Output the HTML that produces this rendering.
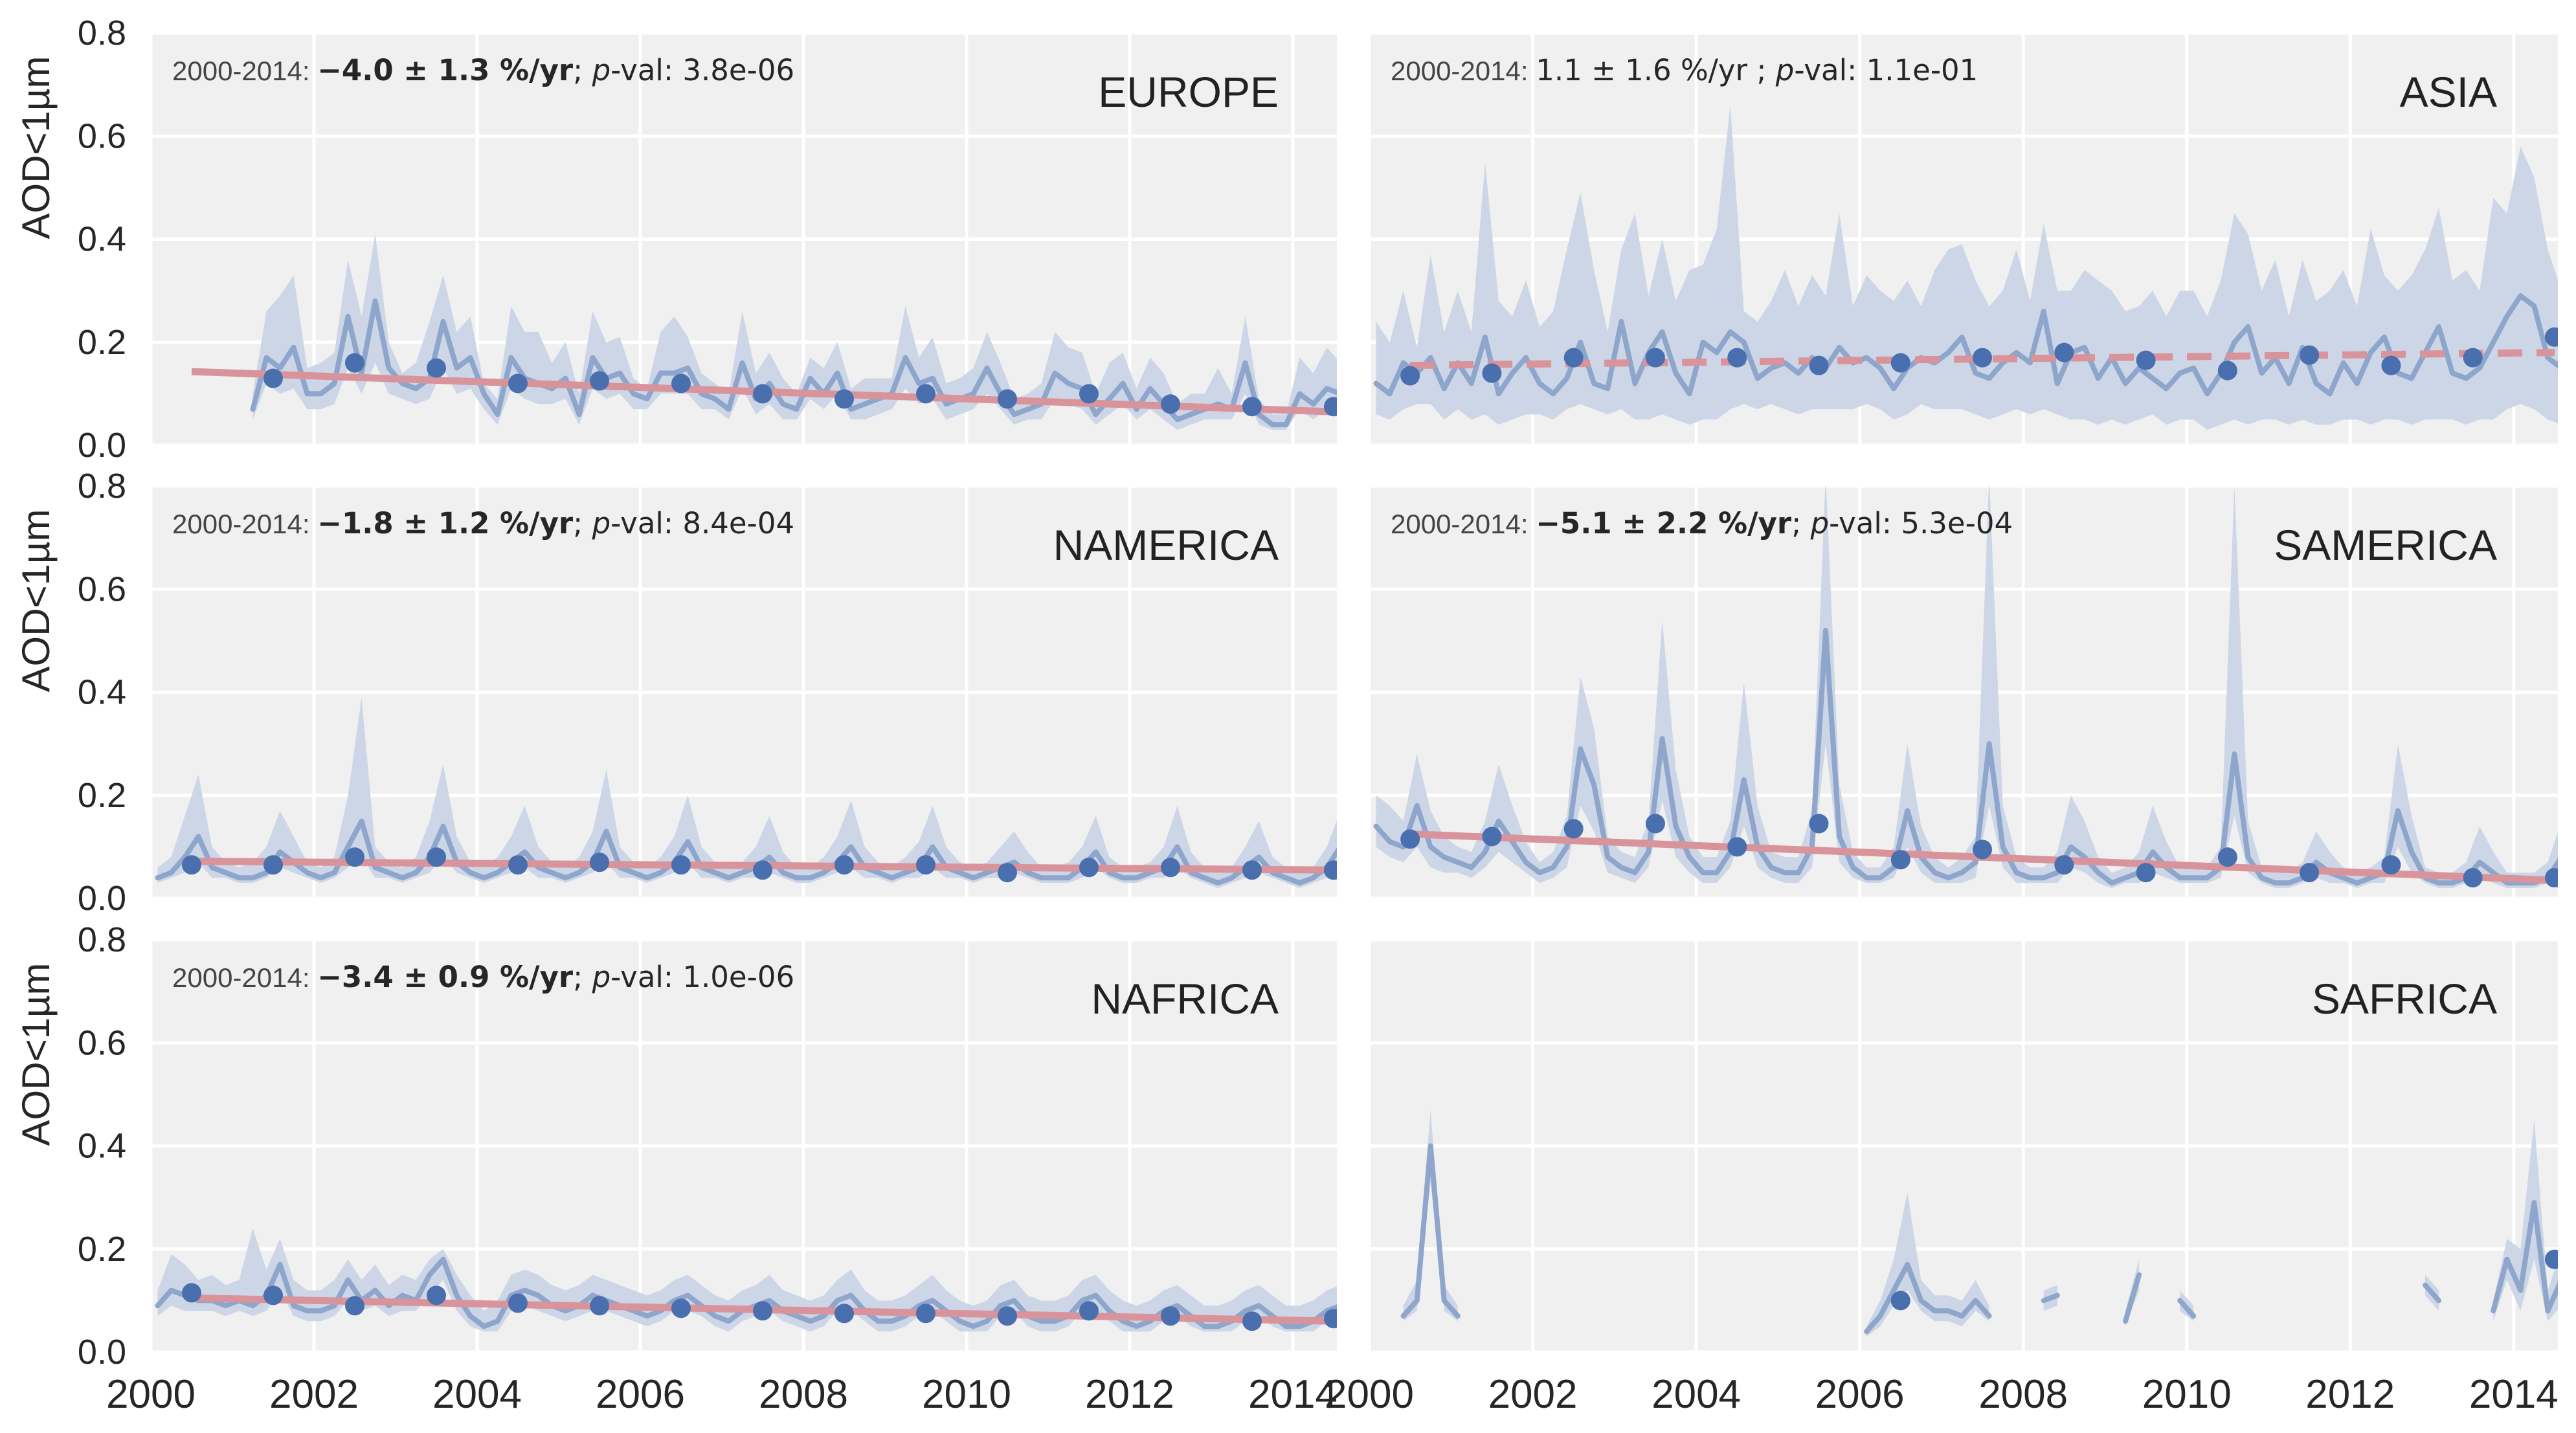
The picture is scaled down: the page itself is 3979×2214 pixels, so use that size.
<!DOCTYPE html>
<html><head><meta charset="utf-8"><style>
html,body{margin:0;padding:0;background:#fff;}
svg{display:block;font-family:"Liberation Sans",Arial,sans-serif;}
</style></head><body>
<svg id="fig" width="3979" height="2214" viewBox="0 0 3979 2214" xmlns="http://www.w3.org/2000/svg"></svg>
<script>
const n=null;
const regions=["EUROPE","ASIA","NAMERICA","SAMERICA","NAFRICA","SAFRICA"];
const xTicks=[2000,2002,2004,2006,2008,2010,2012,2014];
const yTicks=[0.0,0.2,0.4,0.6,0.8];
const yTickLabels=["0.0","0.2","0.4","0.6","0.8"];
const annotPrefix=["2000-2014:","2000-2014:","2000-2014:","2000-2014:","2000-2014:",""];
const annotTrend=["\u22124.0 \u00b1 1.3 %/yr","1.1 \u00b1 1.6 %/yr ","\u22121.8 \u00b1 1.2 %/yr","\u22125.1 \u00b1 2.2 %/yr","\u22123.4 \u00b1 0.9 %/yr",""];
const annotBold=[true,false,true,true,true,false];
const annotPval=["3.8e-06","1.1e-01","8.4e-04","5.3e-04","1.0e-06",""];
const trendStart=[0.143,0.155,0.072,0.125,0.105,null];
const trendEnd=[0.065,0.180,0.055,0.035,0.060,null];
const trendDashed=[false,true,false,false,false,false];

const eurMean=[n,n,n,n,n,n, n,.07,.17,.15,.19,.10, .10,.12,.25,.14,.28,.15, .12,.11,.13,.24,.15,.17, .10,.06,.17,.13,.12,.11, .13,.06,.17,.13,.14,.10, .09,.14,.14,.15,.10,.09, .07,.16,.09,.12,.08,.07, .13,.10,.14,.07,.08,.09, .10,.17,.12,.13,.08,.09, .10,.15,.10,.06,.07,.08, .14,.12,.11,.06,.09,.12, .07,.11,.08,.05,.06,.07, .08,.07,.16,.06,.04,.04, .10,.08,.11,.10,.07,.04];
const eurHi=[n,n,n,n,n,n, n,.10,.26,.29,.33,.15, .16,.18,.36,.25,.41,.20, .14,.16,.24,.33,.22,.25, .12,.09,.27,.22,.22,.16, .20,.10,.26,.20,.21,.13, .11,.22,.25,.21,.14,.12, .10,.26,.14,.18,.13,.10, .17,.15,.20,.11,.13,.13, .13,.27,.17,.21,.12,.13, .15,.22,.16,.09,.10,.12, .22,.19,.18,.10,.16,.18, .11,.17,.14,.08,.10,.10, .15,.10,.25,.09,.06,.06, .17,.14,.19,.16,.10,.06];
const eurLo=[n,n,n,n,n,n, n,.05,.12,.10,.11,.07, .07,.08,.15,.10,.16,.10, .09,.08,.09,.15,.10,.11, .07,.04,.11,.09,.08,.08, .09,.04,.11,.09,.10,.07, .07,.10,.10,.10,.07,.07, .05,.11,.06,.08,.05,.05, .09,.07,.10,.05,.05,.06, .07,.11,.08,.09,.05,.06, .07,.10,.07,.04,.05,.05, .09,.08,.07,.04,.06,.08, .05,.07,.05,.03,.04,.05, .05,.05,.10,.04,.03,.03, .07,.05,.07,.06,.04,.03];
const asiMean=[.12,.10,.16,.14,.17,.11, .16,.12,.21,.10,.14,.17, .12,.10,.13,.20,.12,.11, .24,.12,.18,.22,.14,.10, .20,.18,.22,.20,.13,.15, .16,.14,.17,.15,.19,.16, .17,.15,.11,.15,.17,.16, .18,.21,.14,.13,.16,.18, .16,.26,.12,.18,.19,.13, .17,.12,.15,.13,.11,.14, .15,.10,.14,.20,.23,.14, .17,.12,.19,.12,.10,.16, .12,.18,.21,.14,.13,.18, .23,.14,.13,.15,.20,.25, .29,.27,.17,.15,.22,.18];
const asiHi=[.24,.20,.30,.19,.37,.22, .30,.22,.55,.28,.25,.32, .23,.26,.38,.49,.34,.22, .38,.45,.29,.40,.28,.34, .35,.42,.66,.26,.24,.28, .34,.27,.33,.29,.45,.27, .33,.30,.28,.32,.27,.34, .38,.39,.32,.27,.30,.38, .28,.43,.30,.30,.34,.32, .30,.26,.27,.30,.25,.30, .30,.25,.32,.45,.41,.30, .36,.25,.36,.28,.30,.34, .27,.42,.33,.30,.33,.38, .46,.32,.34,.30,.48,.45, .58,.52,.38,.30,.46,.45];
const asiLo=[.06,.05,.07,.08,.08,.05, .07,.05,.06,.04,.05,.06, .06,.05,.07,.08,.07,.06, .07,.05,.05,.06,.05,.04, .05,.05,.07,.08,.07,.08, .07,.06,.07,.07,.07,.07, .08,.07,.05,.06,.08,.07, .07,.07,.06,.05,.06,.07, .06,.07,.06,.05,.05,.04, .05,.04,.05,.06,.04,.05, .05,.03,.04,.05,.04,.05, .05,.04,.05,.04,.04,.05, .05,.04,.05,.05,.04,.05, .05,.05,.04,.05,.05,.07, .08,.07,.05,.04,.04,.04];
const namMean=[.04,.05,.08,.12,.06,.05, .04,.04,.05,.09,.07,.05, .04,.05,.10,.15,.06,.05, .04,.05,.08,.14,.07,.05, .04,.05,.07,.09,.06,.05, .04,.05,.07,.13,.06,.05, .04,.05,.07,.11,.06,.05, .04,.05,.06,.08,.05,.04, .04,.05,.07,.10,.06,.05, .04,.05,.06,.10,.06,.05, .04,.05,.06,.07,.05,.04, .04,.04,.06,.09,.05,.04, .04,.05,.06,.10,.05,.04, .03,.04,.06,.08,.05,.04, .03,.04,.06,.10,.05,.03];
const namHi=[.06,.08,.16,.24,.10,.07, .06,.07,.10,.17,.12,.07, .06,.08,.20,.39,.10,.07, .06,.08,.15,.26,.12,.07, .06,.08,.12,.18,.10,.07, .06,.08,.13,.25,.10,.07, .06,.08,.12,.20,.10,.07, .06,.07,.10,.16,.09,.06, .06,.08,.12,.19,.10,.07, .06,.08,.11,.18,.10,.07, .06,.07,.10,.13,.09,.06, .06,.07,.10,.16,.08,.06, .06,.07,.10,.18,.09,.06, .05,.06,.10,.15,.08,.06, .05,.06,.10,.17,.08,.05];
const namLo=[.03,.04,.05,.07,.04,.04, .03,.03,.04,.06,.05,.04, .03,.04,.06,.08,.04,.04, .03,.04,.05,.08,.05,.04, .03,.04,.05,.06,.04,.04, .03,.04,.05,.07,.04,.04, .03,.04,.05,.07,.04,.04, .03,.04,.04,.05,.04,.03, .03,.04,.05,.06,.04,.04, .03,.04,.04,.06,.04,.04, .03,.04,.04,.05,.04,.03, .03,.03,.04,.06,.04,.03, .03,.04,.04,.06,.04,.03, .02,.03,.04,.05,.04,.03, .02,.03,.04,.06,.04,.02];
const samMean=[.14,.11,.10,.18,.10,.08, .07,.06,.09,.15,.11,.07, .05,.06,.10,.29,.22,.08, .06,.05,.09,.31,.14,.08, .05,.05,.09,.23,.10,.06, .05,.05,.10,.52,.12,.06, .04,.04,.06,.17,.08,.05, .04,.05,.07,.30,.10,.05, .04,.04,.05,.10,.08,.05, .03,.04,.05,.09,.06,.04, .04,.04,.06,.28,.08,.04, .03,.03,.04,.07,.05,.04, .03,.04,.05,.17,.09,.04, .03,.03,.04,.07,.05,.03, .03,.03,.04,.08,.06,.03];
const samHi=[.20,.18,.15,.28,.17,.12, .10,.09,.15,.26,.18,.11, .07,.09,.16,.43,.33,.12, .09,.08,.15,.54,.25,.12, .08,.08,.15,.42,.18,.09, .08,.08,.17,.82,.22,.09, .06,.06,.10,.30,.14,.08, .06,.08,.12,.82,.18,.08, .06,.06,.09,.20,.15,.08, .05,.06,.09,.18,.11,.06, .06,.06,.10,.80,.15,.06, .05,.05,.07,.13,.09,.06, .05,.06,.08,.30,.16,.06, .05,.05,.07,.14,.09,.05, .05,.05,.07,.15,.11,.05];
const samLo=[.10,.08,.07,.10,.06,.05, .05,.04,.06,.09,.07,.05, .03,.04,.06,.18,.13,.05, .04,.03,.06,.19,.08,.05, .03,.03,.06,.14,.06,.04, .03,.03,.06,.30,.07,.04, .03,.03,.04,.10,.05,.03, .03,.03,.04,.18,.06,.03, .03,.03,.03,.06,.05,.03, .02,.03,.03,.05,.04,.03, .03,.03,.04,.16,.05,.03, .02,.02,.03,.04,.03,.03, .02,.03,.03,.10,.05,.03, .02,.02,.03,.04,.03,.02, .02,.02,.03,.05,.04,.02];
const nafMean=[.09,.12,.11,.10,.10,.09, .10,.09,.11,.17,.09,.08, .08,.09,.14,.10,.12,.09, .11,.10,.15,.18,.11,.07, .05,.06,.11,.12,.11,.09, .08,.09,.11,.10,.09,.08, .07,.08,.10,.11,.09,.07, .06,.08,.09,.10,.08,.07, .06,.07,.10,.11,.08,.06, .06,.07,.09,.10,.08,.06, .05,.06,.09,.10,.07,.06, .06,.07,.10,.11,.08,.06, .05,.06,.08,.09,.07,.05, .05,.06,.08,.09,.07,.05, .05,.06,.08,.09,.07,.05];
const nafHi=[.12,.19,.17,.14,.15,.13, .14,.24,.16,.22,.14,.12, .12,.14,.18,.14,.17,.13, .15,.14,.18,.20,.15,.11, .08,.10,.15,.16,.15,.13, .12,.13,.15,.14,.13,.12, .11,.12,.14,.15,.13,.11, .10,.12,.13,.15,.12,.11, .10,.11,.14,.16,.12,.10, .10,.11,.13,.15,.12,.10, .09,.10,.13,.14,.11,.10, .10,.11,.14,.15,.12,.10, .09,.10,.12,.13,.11,.09, .09,.10,.12,.13,.11,.09, .09,.10,.12,.13,.11,.09];
const nafLo=[.07,.09,.08,.08,.08,.07, .08,.07,.08,.12,.07,.06, .06,.07,.10,.08,.09,.07, .08,.08,.11,.14,.08,.05, .04,.04,.08,.09,.08,.07, .06,.07,.08,.08,.07,.06, .05,.06,.08,.08,.07,.05, .04,.06,.07,.08,.06,.05, .04,.05,.08,.08,.06,.04, .04,.05,.07,.08,.06,.04, .04,.04,.07,.08,.05,.04, .04,.05,.08,.08,.06,.04, .04,.04,.06,.07,.05,.04, .04,.04,.06,.07,.05,.04, .04,.04,.06,.07,.05,.04];
const safMean=[n,n,.07,.10,.40,.10, .07,n,n,n,n,n, n,n,n,n,n,n, n,n,n,n,n,n, n,n,n,n,n,n, n,n,n,n,n,n, .04,.07,.12,.17,.10,.08, .08,.07,.10,.07,n,n, n,.10,.11,n,n,n, n,.06,.15,n,n,.10, .07,n,n,n,n,n, n,n,n,n,n,n, n,n,n,n,n,.13, .10,n,n,n,.08,.18, .12,.29,.08,.14,.28,.33];
const safHi=[n,n,.09,.14,.47,.13, .09,n,n,n,n,n, n,n,n,n,n,n, n,n,n,n,n,n, n,n,n,n,n,n, n,n,n,n,n,n, .05,.10,.18,.31,.14,.11, .11,.10,.14,.09,n,n, n,.12,.13,n,n,n, n,.08,.18,n,n,.12, .09,n,n,n,n,n, n,n,n,n,n,n, n,n,n,n,n,.15, .12,n,n,n,.10,.22, .20,.45,.12,.20,.38,.47];
const safLo=[n,n,.06,.08,.33,.08, .06,n,n,n,n,n, n,n,n,n,n,n, n,n,n,n,n,n, n,n,n,n,n,n, n,n,n,n,n,n, .03,.05,.09,.12,.08,.06, .06,.05,.08,.06,n,n, n,.08,.09,n,n,n, n,.05,.12,n,n,.08, .06,n,n,n,n,n, n,n,n,n,n,n, n,n,n,n,n,.11, .08,n,n,n,.06,.14, .08,.18,.06,.09,.20,.26];

const eurAnnual=[n,.13,.16,.15,.12,.125,.12,.10,.09,.10,.09,.10,.08,.075,.075];
const asiAnnual=[.135,.14,.17,.17,.17,.155,.16,.17,.18,.165,.145,.175,.155,.17,.21];
const namAnnual=[.065,.065,.08,.08,.065,.07,.065,.055,.065,.065,.05,.06,.06,.055,.055];
const samAnnual=[.115,.12,.135,.145,.10,.145,.075,.095,.065,.05,.08,.05,.065,.04,.04];
const nafAnnual=[.115,.11,.09,.11,.095,.09,.085,.08,.075,.075,.07,.08,.07,.06,.065];
const safAnnual=[n,n,n,n,n,n,.10,n,n,n,n,n,n,n,.18];

const means=[eurMean,asiMean,namMean,samMean,nafMean,safMean];
const his=[eurHi,asiHi,namHi,samHi,nafHi,safHi];
const los=[eurLo,asiLo,namLo,samLo,nafLo,safLo];
const annuals=[eurAnnual,asiAnnual,namAnnual,samAnnual,nafAnnual,safAnnual];

const NS="http://www.w3.org/2000/svg";
const svg=document.getElementById("fig");
const colX=[233,2115], colW=[1832,1836];
const rowY=[51,751,1452], H=637;
const X0=2000, XSPAN=14.54, YMAX=0.8;
function mk(tag,attrs,parent){const e=document.createElementNS(NS,tag);for(const k in attrs)e.setAttribute(k,attrs[k]);(parent||svg).appendChild(e);return e;}

const defs=mk("defs",{});
for(let p=0;p<6;p++){
  const c=p%2, r=Math.floor(p/2);
  const px=colX[c], pw=colW[c], py=rowY[r];
  const xs=t=>px+(t-X0)/XSPAN*pw;
  const ys=v=>py+H-v/YMAX*H;
  const cp=mk("clipPath",{id:"clip"+p},defs);
  mk("rect",{x:px,y:py,width:pw,height:H},cp);
  const g=mk("g",{});
  
  
  const bg=mk("rect",{x:px,y:py,width:pw,height:H,fill:"#f0f0f0"},g);
  
  
  for(const v of yTicks){const y=ys(v);const l=mk("line",{x1:px,x2:px+pw,y1:y,y2:y,stroke:"#fff","stroke-width":5},g);
    
    }
  for(const t of xTicks){const x=xs(t);const l=mk("line",{x1:x,x2:x,y1:py,y2:py+H,stroke:"#fff","stroke-width":5},g);
    
    }
  const dg=mk("g",{"clip-path":"url(#clip"+p+")"},g);
  const m=means[p],hi=his[p],lo=los[p];
  const tt=i=>X0+(i+0.5)/6;
  let seg=[];
  const segs=[];
  for(let i=0;i<m.length;i++){ if(m[i]===null){ if(seg.length)segs.push(seg); seg=[]; } else seg.push(i); }
  if(seg.length)segs.push(seg);
  for(const s of segs){
    let d="";
    s.forEach((i,k)=>{d+=(k?"L":"M")+xs(tt(i)).toFixed(1)+","+ys(hi[i]).toFixed(1);});
    for(let k=s.length-1;k>=0;k--){const i=s[k];d+="L"+xs(tt(i)).toFixed(1)+","+ys(lo[i]).toFixed(1);}
    if(s.length===1){const i=s[0];const x=xs(tt(i));d="M"+(x-6)+","+ys(hi[i])+"L"+(x+6)+","+ys(hi[i])+"L"+(x+6)+","+ys(lo[i])+"L"+(x-6)+","+ys(lo[i]);}
    const b=mk("path",{d:d+"Z",fill:"#cdd6e6"},dg);
    
    
  }
  for(const s of segs){
    let d="";
    s.forEach((i,k)=>{d+=(k?"L":"M")+xs(tt(i)).toFixed(1)+","+ys(m[i]).toFixed(1);});
    if(s.length===1){const i=s[0];d+="L"+(xs(tt(i))+4)+","+ys(m[i]);}
    const l=mk("path",{d:d,fill:"none",stroke:"#8ea6cb","stroke-width":8,"stroke-linejoin":"round","stroke-linecap":"round"},dg);
    
    
  }
  if(trendStart[p]!==null){
    const tl=mk("line",{x1:xs(2000.5),y1:ys(trendStart[p]),x2:xs(2014.5),y2:ys(trendEnd[p]),stroke:"#d9939a","stroke-width":11,"stroke-dasharray":trendDashed[p]?"38,22":"none","stroke-linecap":"butt"},dg);
    
    
  }
  annuals[p].forEach((v,k)=>{ if(v===null)return;
    const cc=mk("circle",{cx:xs(2000.5+k),cy:ys(v),r:15,fill:"#4a6fae"},dg);
    
    
  });
  const rl=mk("text",{x:px+pw-(c?94:90),y:py+114,"text-anchor":"end","font-size":66,fill:"#222"},g);
  rl.textContent=regions[p];
  
  
  if(annotPrefix[p]){
    const at=mk("text",{x:px+33,y:py+73,fill:"#262626","font-size":45,"font-family":"DejaVu Sans, sans-serif"},g);
    
    
    const s1=mk("tspan",{"font-size":42,fill:"#444","font-family":"Liberation Sans Narrow, Liberation Sans, sans-serif"},at); s1.textContent=annotPrefix[p]+"  ";
    const s2=mk("tspan",{"font-weight":annotBold[p]?"bold":"normal"},at); s2.textContent=annotTrend[p];
    const s3=mk("tspan",{},at); s3.textContent="; ";
    const s4=mk("tspan",{"font-style":"italic"},at); s4.textContent="p";
    const s5=mk("tspan",{},at); s5.textContent="-val: "+annotPval[p];
  }
  if(c===0){
    yTicks.forEach((v,k)=>{
      const t=mk("text",{x:px-38,y:ys(v)+18,"text-anchor":"end","font-size":54,fill:"#262626"},g);
      t.textContent=yTickLabels[k];
      
      
    });
    const yl=mk("text",{x:0,y:0,transform:"translate(76,"+(py+H/2)+") rotate(-90)","text-anchor":"start","font-size":60,fill:"#262626"},g);
    yl.textContent="AOD<1\u00b5m";
    
    
  }
  if(r===2){
    xTicks.forEach(t=>{
      const tx=mk("text",{x:xs(t),y:py+H+86,"text-anchor":"middle","font-size":62,fill:"#262626"},g);
      tx.textContent=String(t);
      
      
    });
  }
}
</script>
</body></html>
